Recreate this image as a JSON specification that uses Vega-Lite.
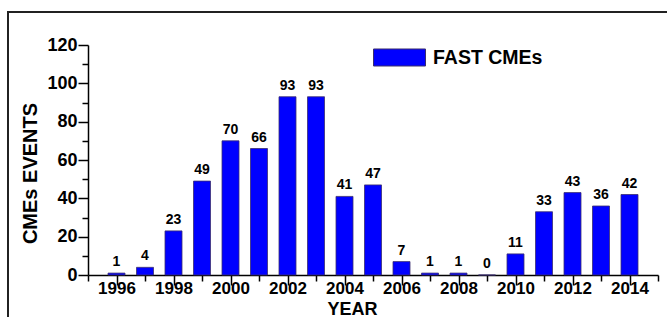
{
  "$schema": "https://vega.github.io/schema/vega-lite/v6.json",
  "width": 570,
  "height": 230,
  "autosize": {"type": "none"},
  "padding": {"left": 88, "top": 45, "right": 9, "bottom": 42},
  "background": "white",
  "config": {
    "view": {"stroke": null},
    "font": "Liberation Sans",
    "axis": {"grid": false, "domainColor": "black", "domainWidth": 1.5, "tickColor": "black", "tickWidth": 1.5, "labelFont": "Liberation Sans", "labelFontWeight": "bold", "labelColor": "black", "titleFont": "Liberation Sans", "titleFontWeight": "bold", "titleColor": "black"}
  },
  "data": {"values": [
    {"year": 1996, "count": 1},
    {"year": 1997, "count": 4},
    {"year": 1998, "count": 23},
    {"year": 1999, "count": 49},
    {"year": 2000, "count": 70},
    {"year": 2001, "count": 66},
    {"year": 2002, "count": 93},
    {"year": 2003, "count": 93},
    {"year": 2004, "count": 41},
    {"year": 2005, "count": 47},
    {"year": 2006, "count": 7},
    {"year": 2007, "count": 1},
    {"year": 2008, "count": 1},
    {"year": 2009, "count": 0},
    {"year": 2010, "count": 11},
    {"year": 2011, "count": 33},
    {"year": 2012, "count": 43},
    {"year": 2013, "count": 36},
    {"year": 2014, "count": 42}
  ]},
  "encoding": {
    "x": {
      "field": "year", "type": "quantitative",
      "scale": {"domain": [1995, 2015], "nice": false, "zero": false, "padding": 0},
      "axis": {
        "values": [1995,1996,1997,1998,1999,2000,2001,2002,2003,2004,2005,2006,2007,2008,2009,2010,2011,2012,2013,2014,2015],
        "format": "d",
        "labelExpr": "datum.value % 2 == 0 ? datum.label : ''",
        "labelFontSize": 17,
        "labelOverlap": false,
        "labelFlush": false,
        "labelBound": false,
        "labelBaseline": "top",
        "tickSize": 10,
        "tickDash": {"condition": {"test": "datum.value % 2 == 0", "value": [10, 0]}, "value": [6, 20]},
        "labelPadding": -5,
        "title": "YEAR",
        "titleFontSize": 18,
        "titleBaseline": "top",
        "titleX": 264,
        "titleY": 25
      }
    },
    "y": {
      "field": "count", "type": "quantitative",
      "scale": {"domain": [0, 120], "nice": false, "padding": 0},
      "axis": {
        "values": [0,10,20,30,40,50,60,70,80,90,100,110,120],
        "labelExpr": "datum.value % 20 == 0 ? datum.label : ''",
        "labelFontSize": 18,
        "labelOverlap": false,
        "labelFlush": false,
        "labelBound": false,
        "tickSize": 10,
        "tickDash": {"condition": {"test": "datum.value % 20 == 0", "value": [10, 0]}, "value": [6, 20]},
        "labelPadding": 1,
        "title": "CMEs EVENTS",
        "titleFontSize": 20,
        "titleAngle": 270,
        "titleAlign": "center",
        "titleBaseline": "bottom",
        "titleX": -48,
        "titleY": 128
      }
    }
  },
  "layer": [
    {
      "mark": {"type": "rect", "fill": null, "stroke": "#222", "strokeWidth": 1.6, "clip": false},
      "encoding": {
        "x": {"datum": 1992.2, "type": "quantitative"},
        "x2": {"datum": 2017},
        "y": {"datum": 137.2, "type": "quantitative"},
        "y2": {"datum": -40}
      }
    },
    {
      "mark": {"type": "bar", "width": 17, "stroke": "#3b2e6e", "strokeWidth": 0.8},
      "encoding": {
        "fill": {
          "datum": "FAST CMEs",
          "scale": {"range": ["#0000ff"]},
          "legend": {
            "title": null,
            "orient": "none",
            "legendX": 285,
            "legendY": -14,
            "padding": 0,
            "symbolType": "M-1,-0.327H1V0.327H-1Z",
            "symbolSize": 2704,
            "symbolStrokeColor": "#3b2e6e",
            "symbolStrokeWidth": 1,
            "labelFont": "Liberation Sans",
            "labelFontWeight": "bold",
            "labelFontSize": 19.5,
            "labelColor": "black",
            "labelOffset": 7
          }
        }
      }
    },
    {
      "mark": {"type": "text", "baseline": "bottom", "dy": -4, "font": "Liberation Sans", "fontWeight": "bold", "fontSize": 14, "color": "black"},
      "encoding": {
        "text": {"field": "count", "type": "quantitative"}
      }
    }
  ]
}
